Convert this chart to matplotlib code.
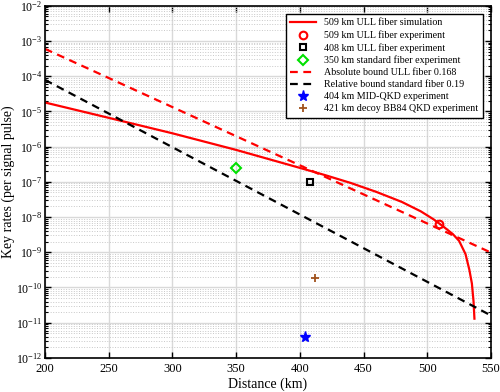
import matplotlib
matplotlib.use("Agg")
import matplotlib.pyplot as plt
from matplotlib.ticker import LogLocator, NullFormatter, MultipleLocator

plt.rcParams['font.family'] = ['Liberation Serif', 'DejaVu Serif']
plt.rcParams['mathtext.fontset'] = 'custom'
plt.rcParams['mathtext.rm'] = 'Liberation Serif'
plt.rcParams['axes.unicode_minus'] = False

# 509 km ULL fiber simulation
sim_dist = [200, 250, 300, 350, 400, 420, 440, 460, 480, 495, 505, 512, 520, 525,
            530, 533, 535, 536.3, 537]
sim_rate = [1.8e-5, 6.6e-6, 2.4e-6, 8.1e-7, 2.5e-7, 1.55e-7, 9.3e-8, 5.2e-8, 2.7e-8,
            1.45e-8, 8.6e-9, 5.6e-9, 3.3e-9, 2.1e-9, 8.9e-10, 3.2e-10, 1.3e-10, 4.0e-11, 1.3e-11]

# bounds
abs_dist = [200, 550]
abs_rate = [6.0e-4, 9.8e-10]
rel_dist = [200, 550]
rel_rate = [7.9e-5, 1.6e-11]

# experiments
exp509 = (509.5, 6.3e-9)
exp408 = (408, 1.0e-7)
exp350 = (350, 2.5e-7)
mdi404 = (404, 4.0e-12)
bb84 = (412, 1.9e-10)

fig = plt.figure(figsize=(5, 3.92), dpi=100)
ax = fig.add_axes([0.09, 0.087, 0.892, 0.898])

ax.plot(sim_dist, sim_rate, '-', color='red', lw=1.6, label='509 km ULL fiber simulation')
ax.plot(*exp509, 'o', mfc='none', mec='red', mew=1.5, ms=5.5, ls='none', label='509 km ULL fiber experiment')
ax.plot(*exp408, 's', mfc='none', mec='black', mew=1.5, ms=4.5, ls='none', label='408 km ULL fiber experiment')
ax.plot(*exp350, 'D', mfc='none', mec='#00e000', mew=1.5, ms=5, ls='none', label='350 km standard fiber experiment')
ax.plot(abs_dist, abs_rate, '--', color='red', lw=1.6, dashes=(3.5, 2.5), label='Absolute bound ULL fiber 0.168')
ax.plot(rel_dist, rel_rate, '--', color='black', lw=1.6, dashes=(3.5, 2.5), label='Relative bound standard fiber 0.19')
ax.plot(*mdi404, '*', color='blue', ms=8, ls='none', label='404 km MID-QKD experiment')
ax.plot(*bb84, '+', color='#a0521d', mew=1.3, ms=6, ls='none', label='421 km decoy BB84 QKD experiment')

ax.set_yscale('log')
ax.set_xlim(200, 550)
ax.set_ylim(1e-12, 1e-2)
ax.xaxis.set_major_locator(MultipleLocator(50))
ax.yaxis.set_major_locator(LogLocator(base=10, numticks=20))
ax.yaxis.set_minor_locator(LogLocator(base=10, subs=range(2, 10), numticks=20))
ax.yaxis.set_minor_formatter(NullFormatter())

ax.grid(True, which='major', color='#d9d9d9', lw=1.0)
ax.grid(True, which='minor', axis='y', color='#c8c8c8', lw=0.7, ls=':')
ax.set_axisbelow(True)

ax.tick_params(which='both', direction='in', top=True, right=True)
ax.tick_params(axis='x', labelsize=9, pad=4)
ax.tick_params(axis='y', labelsize=8.5, pad=2)
ax.tick_params(which='major', length=4, width=1)
ax.tick_params(which='minor', length=2, width=0.8)
for s in ax.spines.values():
    s.set_linewidth(1.2)

ax.set_xlabel('Distance (km)', fontsize=10)
ax.xaxis.set_label_coords(0.5, -0.056)
ax.set_ylabel('Key rates (per signal pulse)', fontsize=10)
ax.yaxis.set_label_coords(-0.068, 0.5)

leg = ax.legend(loc='upper right', fontsize=7.2, frameon=True, fancybox=False,
                edgecolor='black', framealpha=1, labelspacing=0.3, handlelength=2.6,
                borderpad=0.45, borderaxespad=0.8)
leg.get_frame().set_linewidth(1.0)

fig.savefig('out.png', dpi=100)
